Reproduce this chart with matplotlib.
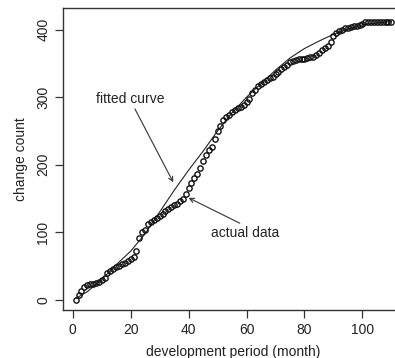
""" Change count over the development period, actual data vs fitted curve """

import matplotlib
matplotlib.use("Agg")
from matplotlib import pyplot as plt

plt.rcParams["font.family"] = ["Liberation Sans", "DejaVu Sans"]

# Actual data: one point per month
months = list(range(1, 111))
changeCount = [0, 7, 13, 19, 22, 24, 23, 25, 27, 30,
               32, 40, 42, 45, 48, 50, 53, 55, 57, 60,
               64, 73, 92, 100, 104, 112, 115, 118, 121, 124,
               127, 132, 135, 137, 140, 142, 146, 150, 156, 165,
               173, 180, 186, 195, 205, 214, 222, 227, 238, 250,
               258, 266, 270, 274, 278, 281, 284, 286, 289, 293,
               298, 306, 310, 316, 319, 322, 325, 328, 330, 334,
               338, 342, 345, 348, 352, 353, 355, 356, 356, 357,
               358, 359, 360, 362, 366, 370, 373, 376, 382, 390,
               395, 398, 400, 402, 403, 404, 405, 406, 407, 409,
               411, 411, 411, 411, 411, 411, 411, 411, 411, 411]

# Fitted curve, read at a few months
fitMonths = [1, 5, 10, 15, 20, 25, 30, 35, 40, 45, 50, 55,
             60, 65, 70, 75, 80, 85, 90, 95, 100, 105, 110]
fitCount = [2, 12, 30, 52, 72, 98, 130, 162, 192, 220, 250, 277,
            300, 320, 340, 358, 372, 383, 393, 401, 407, 410, 412]

textColor = "#222222"
lineColor = "#333333"

fig = plt.figure(figsize=(3.95, 3.58), dpi=100)
ax = fig.add_axes([63 / 395, 48 / 358, 341 / 395, 302 / 358])

ax.plot(fitMonths, fitCount, color="#222222", lw=0.8, zorder=2)
ax.plot(months, changeCount, ls="none", marker="o", ms=3.8, mfc="none",
        mec="#111111", mew=1.0, zorder=3)

ax.set_xlim(-3.36, 114.36)
ax.set_ylim(-15, 432)
ax.set_xticks([0, 20, 40, 60, 80, 100])
ax.set_yticks([0, 100, 200, 300, 400])
ax.tick_params(direction="out", length=6, width=0.9, colors=lineColor,
               labelcolor=textColor, labelsize=10, pad=3)
for lbl in ax.get_yticklabels():
  lbl.set_rotation(90)
  lbl.set_va("center")
for s in ax.spines.values():
  s.set_color(lineColor)
  s.set_linewidth(1.0)

ax.set_xlabel("development period (month)", fontsize=10, color=textColor, labelpad=6)
ax.set_ylabel("change count", fontsize=10, color=textColor, labelpad=6)

arrow = dict(arrowstyle="->", color="#333333", lw=0.8, shrinkA=0, shrinkB=0,
             mutation_scale=8)
ax.annotate("fitted curve", xy=(34.7, 174), xytext=(19.8, 297),
            ha="center", va="center", fontsize=10, color=textColor,
            arrowprops=dict(arrow, relpos=(0.55, 0.0)))
ax.annotate("actual data", xy=(40.0, 151), xytext=(59.6, 99),
            ha="center", va="center", fontsize=10, color=textColor,
            arrowprops=dict(arrow, relpos=(0.5, 1.0)))

fig.savefig("out.png", dpi=100)
